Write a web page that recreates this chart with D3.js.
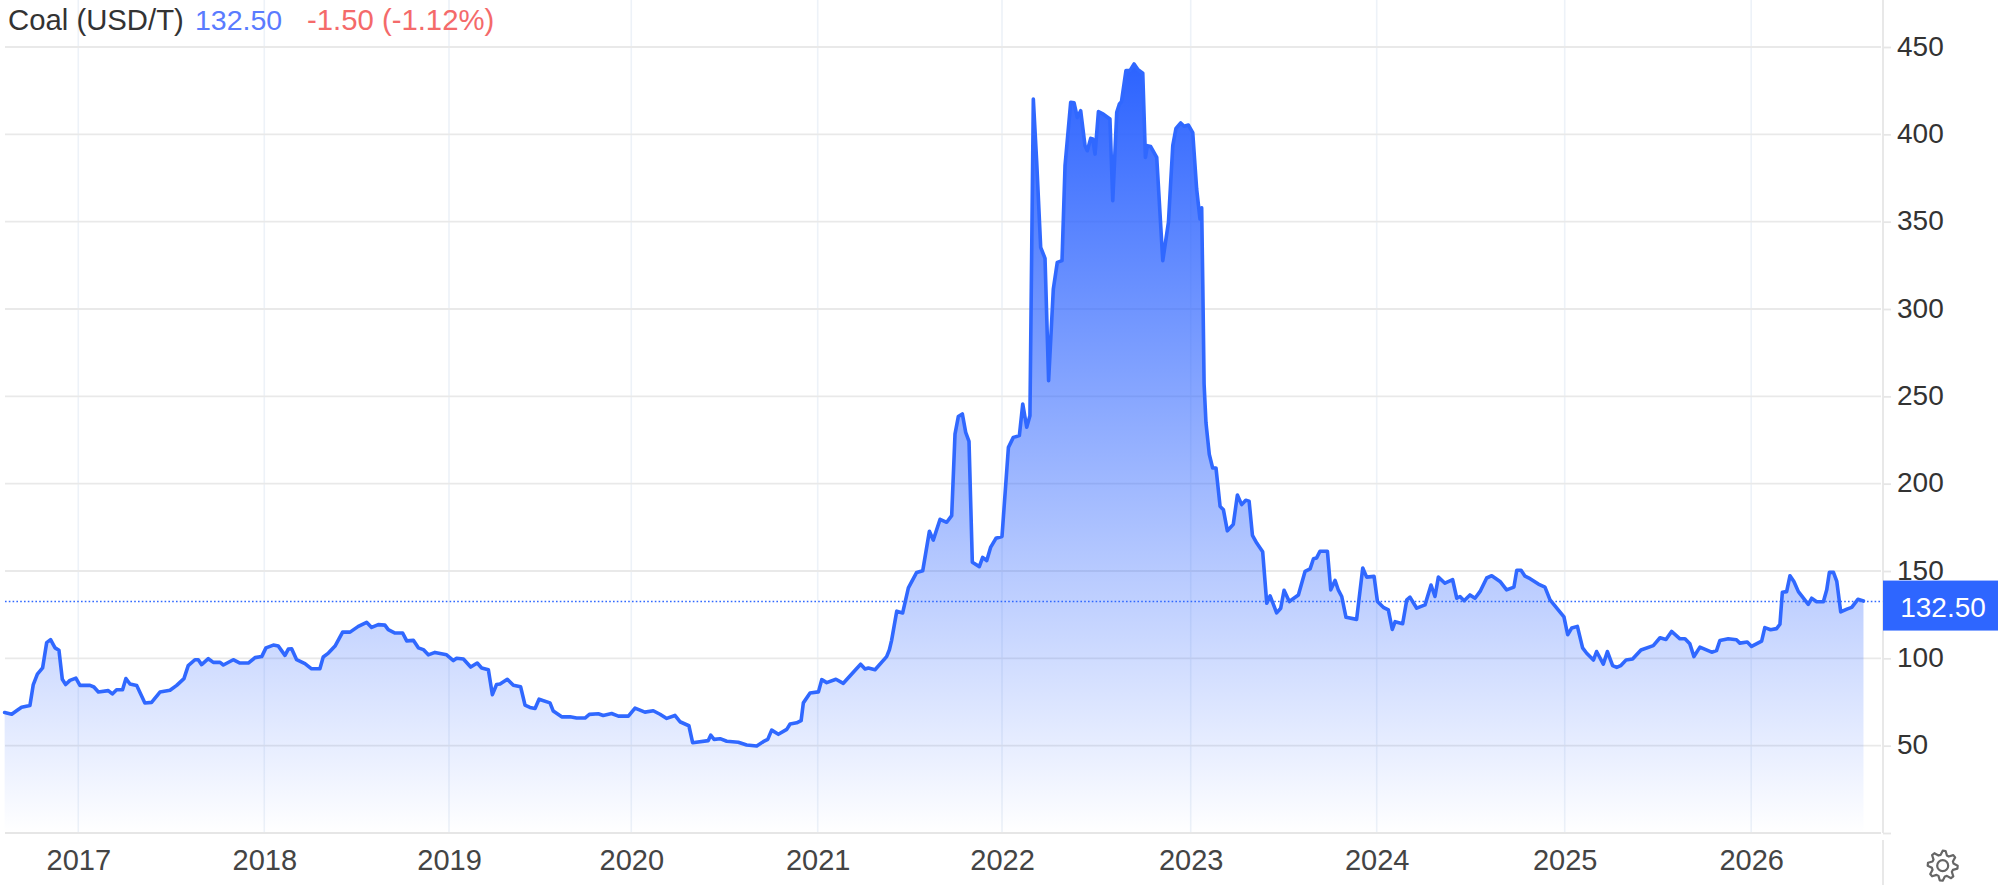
<!DOCTYPE html>
<html><head><meta charset="utf-8">
<script src="https://cdn.jsdelivr.net/npm/d3@7"></script>
<style>
html,body{margin:0;padding:0;background:#fff;overflow:hidden}
text{font-family:"Liberation Sans",Arial,sans-serif}
</style></head><body><div id="chart"></div>
<script>
const seriesName = "Coal (USD/T)";
const lastLabel = "132.50";
const changeLabel = "-1.50 (-1.12%)";
const lastValue = 132.5;
const yTicks = [50,100,150,200,250,300,350,400,450];
const yearTicks = [2017,2018,2019,2020,2021,2022,2023,2024,2025,2026];

const times = [
2016.604,2016.642,2016.668,2016.695,2016.740,2016.758,2016.780,2016.808,2016.830,2016.851,2016.875,2016.896,2016.914,2016.932,2016.955,2016.987,
2017.009,2017.063,2017.084,2017.108,2017.161,2017.183,2017.206,2017.238,2017.256,2017.278,2017.314,2017.358,2017.394,2017.439,2017.493,2017.529,2017.568,2017.591,2017.627,2017.645,2017.663,2017.699,2017.726,2017.762,2017.780,2017.833,2017.869,2017.914,2017.950,2017.986,
2018.009,2018.049,2018.076,2018.112,2018.130,2018.148,2018.175,2018.220,2018.256,2018.301,2018.319,2018.347,2018.383,2018.424,2018.464,2018.509,2018.554,2018.581,2018.617,2018.653,2018.671,2018.708,2018.749,2018.771,2018.807,2018.834,2018.861,2018.888,2018.924,2018.987,
2019.024,2019.042,2019.079,2019.119,2019.155,2019.179,2019.216,2019.238,2019.261,2019.280,2019.320,2019.353,2019.393,2019.417,2019.444,2019.472,2019.494,2019.554,2019.572,2019.618,2019.664,2019.700,2019.746,2019.770,2019.819,2019.846,2019.892,2019.929,2019.984,
2020.020,2020.073,2020.118,2020.154,2020.190,2020.234,2020.261,2020.309,2020.329,2020.413,2020.426,2020.444,2020.476,2020.512,2020.574,2020.619,2020.673,2020.708,2020.732,2020.753,2020.789,2020.834,2020.852,2020.887,2020.911,2020.923,2020.959,
2021.004,2021.022,2021.049,2021.099,2021.139,2021.203,2021.233,2021.257,2021.275,2021.311,2021.374,2021.389,2021.401,2021.429,2021.461,2021.492,2021.537,2021.570,2021.606,2021.627,2021.664,2021.700,2021.727,2021.745,2021.763,2021.785,2021.803,2021.821,2021.839,2021.877,2021.895,2021.917,2021.938,2021.967,
2022.000,2022.034,2022.060,2022.092,2022.110,2022.131,2022.148,2022.166,2022.184,2022.205,2022.228,2022.247,2022.272,2022.293,2022.318,2022.334,2022.364,2022.382,2022.399,2022.417,2022.440,2022.452,2022.470,2022.481,2022.493,2022.511,2022.537,2022.572,2022.587,2022.608,2022.622,2022.633,2022.657,2022.678,2022.700,2022.721,2022.746,2022.760,2022.770,2022.788,2022.820,2022.852,2022.882,2022.905,2022.922,2022.947,2022.965,2022.988,
2023.011,2023.032,2023.050,2023.059,2023.065,2023.072,2023.082,2023.100,2023.118,2023.136,2023.158,2023.176,2023.197,2023.229,2023.251,2023.274,2023.296,2023.314,2023.332,2023.355,2023.387,2023.409,2023.427,2023.462,2023.484,2023.502,2023.530,2023.579,2023.615,2023.642,2023.660,2023.677,2023.695,2023.735,2023.753,2023.776,2023.794,2023.812,2023.835,2023.892,2023.925,2023.946,2023.986,
2024.004,2024.035,2024.062,2024.083,2024.098,2024.138,2024.160,2024.177,2024.213,2024.257,2024.289,2024.310,2024.328,2024.363,2024.404,2024.426,2024.443,2024.465,2024.496,2024.523,2024.550,2024.585,2024.612,2024.656,2024.691,2024.730,2024.745,2024.768,2024.789,2024.816,2024.860,2024.895,2024.922,2024.996,
2025.016,2025.038,2025.068,2025.096,2025.118,2025.154,2025.171,2025.207,2025.229,2025.257,2025.279,2025.300,2025.329,2025.364,2025.409,2025.475,2025.511,2025.543,2025.573,2025.618,2025.645,2025.671,2025.693,2025.725,2025.788,2025.814,2025.832,2025.877,2025.921,2025.939,2025.979,
2026.002,2026.056,2026.073,2026.104,2026.136,2026.154,2026.167,2026.190,2026.208,2026.229,2026.253,2026.306,2026.324,2026.351,2026.387,2026.405,2026.419,2026.441,2026.459,2026.480,2026.513,2026.539,2026.572,2026.602
];
const prices = [
69,68,70,72,73,85,91,94.5,109,110.7,106,104.6,88,85,87.4,88.7,
84.5,84.5,83.6,80.7,81.5,79.6,82,82,88.4,85.3,84.4,74.4,74.8,80.7,81.7,84.5,88.4,95.8,99.2,99.2,96.4,99.8,97.7,97.7,96.2,99.2,97.3,97.3,100.4,101,
106,107.6,107,101.7,105.3,105.5,99.2,97,94,94,100.8,103,107,115,115,118.3,120.6,117.7,119.3,119,116.4,114.5,114.5,110,110.3,106,105,102,103.4,102,
98.7,100,99.6,95,97.3,94.5,93.5,79.2,85,85.3,88,84.6,83.7,73.2,71.9,71.3,76.6,74.5,69.8,66.5,66.5,65.8,65.8,67.9,68.3,67.3,68.4,66.9,66.9,
71.5,69.2,70,68,65.6,67.3,63.7,61.4,51.7,52.9,56,53.6,54,52.5,52,50.4,49.8,52.3,53.6,58.9,56.5,59.3,62.4,63.1,64.3,74.5,80.2,
80.8,87.8,86.1,88,85.7,93.2,96.6,93.9,94.5,93.5,101,104.9,110.3,127,126,140.3,149.2,150.2,172.7,167.7,179.6,177.9,181.7,228.4,238.4,239.9,229.4,224.2,155,152.5,157.8,155.9,163.5,168.7,
169.8,220.8,226.5,227.5,245.6,232.3,238.9,420.2,384,335.3,329,259,311.5,326.7,327.7,382,418.3,418,409.7,413.5,393.5,390.6,397.7,397.3,388.7,413,411.6,408.8,362,412.6,417.4,418.7,436.5,436.5,440.3,437,435,386.8,393.5,393,386.8,327.7,349.6,393.5,403.4,406.5,404.6,405.3,
401,368.7,351.5,358,314,257,235,216.8,209,209,187,185,173,176.7,193.5,188,190.5,190,170.4,166,161,131.5,135.8,126,128.7,139,132.5,136.3,149.8,151.2,157,157.5,161.3,161.3,139.2,144.6,139,135.4,123.5,122.3,151.7,146.5,146.9,
132.5,129.2,127.7,116.5,121,119.8,133.5,135,128.7,130.6,142,135.4,146.5,143,145,134.4,135.4,133,136.3,134.4,138.3,146,147.3,144,139.2,140.8,150.4,150.4,147,145.6,142.5,140.8,133.5,123.7,
113.5,117.4,118.3,106,102.9,99,103.9,96.7,103.9,95.8,94.8,95.8,99,99.6,104.8,107.3,111.8,110.8,115.4,111.2,111.2,108.3,101,106.4,103.5,104.4,110.2,111.2,110.6,108.7,109.3,
106.8,109.8,117.6,116.4,117,119.5,137.8,138.2,147.3,144,138.2,130.9,134.4,132.4,132.4,139.2,149.2,149.2,144,126.6,128.2,129.2,133.8,132.8
];

const W = 1998, H = 886;
const plotLeft = 5, plotRight = 1881, axisX = 1883, fontSize = 28;
const data = times.map((t,i)=>({t, v:prices[i]}));

const x = d3.scaleLinear()
  .domain(yearTicks)
  .range([78.3,264.3,449,631.3,817.7,1002,1190.7,1376.7,1564.7,1751.2]);
const y = d3.scaleLinear().domain([0,450]).range([833,47]);

const svg = d3.select("#chart").append("svg").attr("width",W).attr("height",H).style("display","block");

const grad = svg.append("defs").append("linearGradient").attr("id","fade")
  .attr("gradientUnits","userSpaceOnUse")
  .attr("x1",0).attr("x2",0).attr("y1",y(d3.max(prices))).attr("y2",y(0));
grad.append("stop").attr("offset",0).attr("stop-color","#2c63ff").attr("stop-opacity",1);
grad.append("stop").attr("offset",1).attr("stop-color","#2c63ff").attr("stop-opacity",0);

// vertical grid
svg.append("g").selectAll("line").data(yearTicks).join("line")
  .attr("x1",d=>x(d)).attr("x2",d=>x(d)).attr("y1",0).attr("y2",y(0))
  .attr("stroke","#edf2f8").attr("stroke-width",1.6);
// horizontal grid
svg.append("g").selectAll("line").data(yTicks).join("line")
  .attr("x1",plotLeft).attr("x2",plotRight).attr("y1",d=>y(d)).attr("y2",d=>y(d))
  .attr("stroke","#e9e9e9").attr("stroke-width",1.8);
svg.append("line").attr("x1",plotLeft).attr("x2",plotRight).attr("y1",y(0)).attr("y2",y(0))
  .attr("stroke","#e6e6e6").attr("stroke-width",2);

// area + line
svg.append("path").datum(data).attr("fill","url(#fade)")
  .attr("d",d3.area().x(d=>x(d.t)).y0(y(0)).y1(d=>y(d.v)));
svg.append("path").datum(data).attr("fill","none").attr("stroke","#3068ff")
  .attr("stroke-width",3.6).attr("stroke-linejoin","round").attr("stroke-linecap","round")
  .attr("d",d3.line().x(d=>x(d.t)).y(d=>y(d.v)));

// last value dotted line
svg.append("line").attr("x1",plotLeft).attr("x2",axisX).attr("y1",y(lastValue)).attr("y2",y(lastValue))
  .attr("stroke","#3068ff").attr("stroke-width",1.6).attr("stroke-dasharray","1.6 2.2");

// right axis
svg.append("line").attr("x1",axisX).attr("x2",axisX).attr("y1",0).attr("y2",y(0)).attr("stroke","#e6e6e6").attr("stroke-width",1.8);
svg.append("line").attr("x1",axisX).attr("x2",axisX).attr("y1",840).attr("y2",885).attr("stroke","#e6e6e6").attr("stroke-width",1.8);
const yAxis = svg.append("g").attr("transform",`translate(${axisX},0)`)
  .call(d3.axisRight(y).tickValues(yTicks.concat([0])).tickSize(8).tickPadding(6).tickFormat(d=>d===0?"":d));
yAxis.select(".domain").remove();
yAxis.selectAll("line").attr("stroke","#e6e6e6").attr("stroke-width",1.8);
yAxis.selectAll("text").attr("font-size",fontSize).attr("font-family","Liberation Sans").attr("fill","#333").attr("dy","0.29em");

// bottom axis
const xAxis = svg.append("g").attr("transform",`translate(0,${y(0)})`)
  .call(d3.axisBottom(x).tickValues(yearTicks).tickSize(0).tickPadding(16).tickFormat(d3.format("d")));
xAxis.select(".domain").remove();
xAxis.selectAll("text").attr("font-size",29).attr("font-family","Liberation Sans").attr("fill","#444");

// last value tag
svg.append("rect").attr("x",axisX).attr("width",W-axisX).attr("y",y(lastValue)-21).attr("height",50).attr("fill","#2e66ff");
svg.append("text").attr("x",1943).attr("y",y(lastValue)+15).attr("text-anchor","middle")
  .attr("font-size",fontSize).attr("fill","#fff").text(lastLabel);

// header
const header = [[seriesName,8,"#333",29.3],[lastLabel,195,"#5a7bff",28.5],[changeLabel,307,"#f46a6a",29.3]];
svg.append("g").selectAll("text").data(header).join("text")
  .attr("x",d=>d[1]).attr("y",30).attr("font-size",d=>d[3]).attr("fill",d=>d[2]).text(d=>d[0]);

// settings gear
const teeth = 8, cx = 1942.7, cy = 865.7;
const gearPts = d3.range(teeth*4).map(i=>{
  const a = i/(teeth*4)*2*Math.PI - Math.PI/2;
  const r = (i%4===0||i%4===1) ? 15 : 11;
  return [a,r];
});
svg.append("path").attr("transform",`translate(${cx},${cy})`)
  .attr("d",d3.lineRadial().angle(d=>d[0]).radius(d=>d[1]).curve(d3.curveLinearClosed)(gearPts))
  .attr("fill","none").attr("stroke","#666").attr("stroke-width",2.2).attr("stroke-linejoin","round");
svg.append("circle").attr("cx",cx).attr("cy",cy).attr("r",5.5).attr("fill","none").attr("stroke","#666").attr("stroke-width",2.2);
</script></body></html>
